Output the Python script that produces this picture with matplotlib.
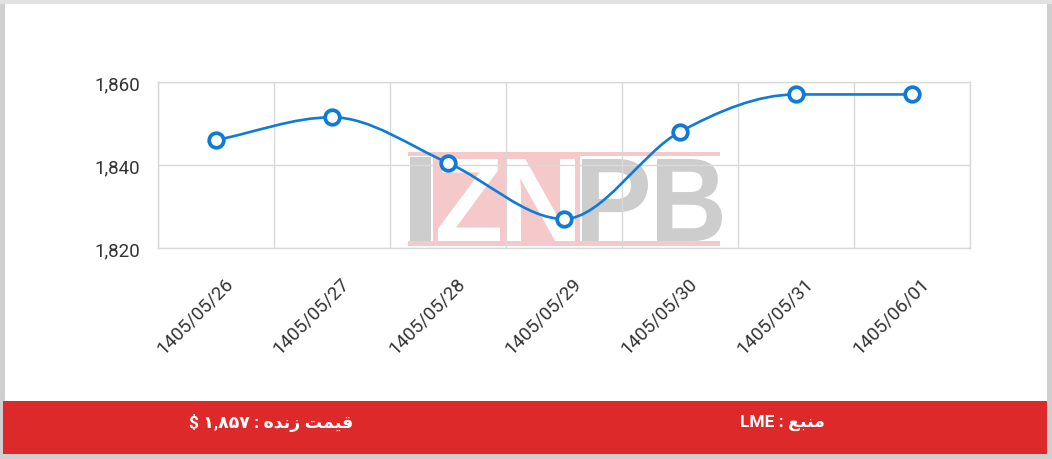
import numpy as np
import matplotlib
matplotlib.use("Agg")
import matplotlib.pyplot as plt
from matplotlib.path import Path
from matplotlib.patches import PathPatch, Rectangle
from matplotlib.textpath import TextPath
from matplotlib.font_manager import FontProperties
from matplotlib.transforms import Affine2D, blended_transform_factory, ScaledTranslation

# ---- data ----
dates = ["1405/05/26", "1405/05/27", "1405/05/28", "1405/05/29",
         "1405/05/30", "1405/05/31", "1405/06/01"]
prices = [1846, 1851.5, 1840.5, 1827, 1848, 1857, 1857]
y_ticks = [1820, 1840, 1860]
y_tick_labels = ["1,820", "1,840", "1,860"]
footer_source = "LME : " + "\uFECA\uFE92\uFEE8\uFEE3"           # منبع : LME
footer_price = "$ \u06F1,\u06F8\u06F5\u06F7 : " + "\uFEE9\uFEAA\uFEE7\uFEAF" + " " + "\uFE96\uFEE4\uFEF4\uFED7"  # قیمت زنده : ۱,۸۵۷ $

W, H = 1052, 460
fig = plt.figure(figsize=(W / 100, H / 100), dpi=100)
fig.patch.set_facecolor("#cfcfcf")
PX = Affine2D().scale(1 / W, -1 / H).translate(0, 1) + fig.transFigure

# card + top lighter strip
fig.patches.append(Rectangle((0, 0), W, 5, transform=PX, facecolor="#e2e2e2", edgecolor="none", zorder=-5))
fig.patches.append(Rectangle((5, 5), 1042, 450, transform=PX, facecolor="white", edgecolor="none", zorder=-4))
fig.patches.append(Rectangle((3, 402), 1044, 53, transform=PX, facecolor="#de292a", edgecolor="none", zorder=-3))

# ---- watermark ----
pink = "#f5c9c9"
grey = "#cdcdcd"
for (x0, y0, x1, y1, c) in [(408, 153, 720, 157, pink), (408, 242, 720, 247, pink),
                            (433, 157, 580, 242, pink), (410, 158, 431, 242, grey)]:
    fig.patches.append(Rectangle((x0, y0), x1 - x0, y1 - y0, transform=PX,
                                 facecolor=c, edgecolor="none", zorder=-2))

fp = FontProperties(family="Liberation Sans", weight="bold")
def letter(s, x0, y0, x1, y1, color):
    tp = TextPath((0, 0), s, size=100, prop=fp)
    e = tp.get_extents()
    tr = (Affine2D().translate(-e.x0, -e.y0)
          .scale((x1 - x0) / e.width, -(y1 - y0) / e.height)
          .translate(x0, y1))
    p = tr.transform_path(tp)
    fig.patches.append(PathPatch(p, transform=PX, facecolor=color, edgecolor="none", zorder=-1))

letter("Z", 438, 160, 500, 242, "white")
letter("N", 506, 160, 575, 242, "white")
letter("P", 582, 160, 648, 242, grey)
letter("B", 657, 160, 722, 242, grey)

# ---- axes ----
ax = fig.add_axes([158 / W, 1 - 249 / H, 812 / W, 166 / H])
ax.patch.set_visible(False)
n = len(prices)
xs = np.arange(n)
ax.set_xlim(-0.5, n - 0.5)
ax.set_ylim(1820, 1860)
ax.set_yticks(y_ticks)
ax.set_yticklabels(y_tick_labels)
ax.set_xticks(np.arange(n + 1) - 0.5, minor=False)
ax.set_xticklabels([])
ax.tick_params(axis="both", length=0)
ax.tick_params(axis="y", pad=13, labelsize=13.5, labelcolor="#333333")
for lab in ax.get_yticklabels():
    lab.set_fontfamily("Roboto")
ax.grid(True, color="#d9d9d9", linewidth=1)
for s in ax.spines.values():
    s.set_color("#d9d9d9")
    s.set_linewidth(1)

# x labels (rotated)
bt = blended_transform_factory(ax.transData, ax.transAxes)
for i, d in enumerate(dates):
    ax.text(i, 0, d, transform=bt + ScaledTranslation(14 / 100, -32 / 100, fig.dpi_scale_trans),
            rotation=45, rotation_mode="anchor", ha="right", va="center",
            fontsize=13.5, color="#333333", family="Roboto", clip_on=False)

# monotone cubic (Chart.js style) curve
y = np.array(prices, dtype=float)
dk = np.diff(y)
m = np.zeros(n)
m[0] = dk[0]
m[-1] = dk[-1]
for i in range(1, n - 1):
    if dk[i - 1] == 0 or dk[i] == 0 or np.sign(dk[i - 1]) != np.sign(dk[i]):
        m[i] = 0
    else:
        m[i] = (dk[i - 1] + dk[i]) / 2
for i in range(n - 1):
    if abs(dk[i]) < 1e-9:
        m[i] = m[i + 1] = 0
        continue
    a = m[i] / dk[i]
    b = m[i + 1] / dk[i]
    sq = a * a + b * b
    if sq > 9:
        t = 3 / np.sqrt(sq)
        m[i] = a * t * dk[i]
        m[i + 1] = b * t * dk[i]
verts = [(xs[0], y[0])]
codes = [Path.MOVETO]
for i in range(n - 1):
    verts += [(xs[i] + 1 / 3, y[i] + m[i] / 3),
              (xs[i + 1] - 1 / 3, y[i + 1] - m[i + 1] / 3),
              (xs[i + 1], y[i + 1])]
    codes += [Path.CURVE4] * 3
ax.add_patch(PathPatch(Path(verts, codes), facecolor="none", edgecolor="#0f7bd6",
                       linewidth=1.9, zorder=3, clip_on=False))
ax.plot(xs, y, linestyle="none", marker="o", markersize=10.5, markerfacecolor="white",
        markeredgecolor="#0f7bd6", markeredgewidth=2.7, zorder=4, clip_on=False)

# footer texts
fig.text(782 / W, 1 - 423 / H, footer_source, ha="center", va="center", color="white",
         fontsize=12.5, fontweight="bold", family=["Roboto", "DejaVu Sans"])
fig.text(271 / W, 1 - 423 / H, footer_price, ha="center", va="center", color="white",
         fontsize=12.5, fontweight="bold", family=["Roboto", "DejaVu Sans"])

fig.savefig("out.png", dpi=100, facecolor=fig.get_facecolor())
